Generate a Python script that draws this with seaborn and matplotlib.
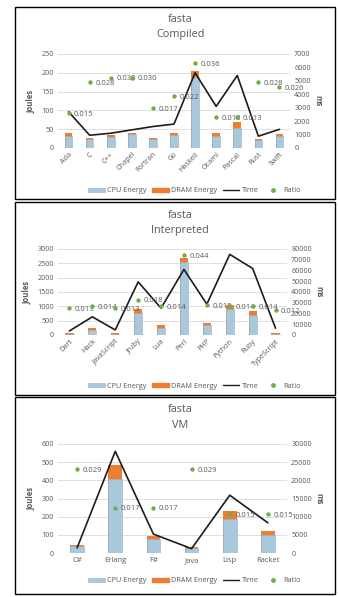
import numpy as np
import pandas as pd
import matplotlib
matplotlib.use("Agg")
import matplotlib.pyplot as plt
from matplotlib.patches import Rectangle, Patch
from matplotlib.lines import Line2D
import seaborn as sns

sns.set_theme(style="white")
plt.rcParams["font.family"] = ["Open Sans", "DejaVu Sans"]

# ---- data -------------------------------------------------------------
compiled_langs = ["Ada", "C", "C++", "Chapel", "Fortran", "Go", "Haskell",
                  "Ocaml", "Pascal", "Rust", "Swift"]
compiled_cpu = [32, 23, 30, 36, 23, 34, 189, 31, 53, 22, 31]
compiled_dram = [8, 3, 4, 3, 4, 5, 15, 9, 15, 3, 6]
compiled_time = [2700, 950, 1100, 1350, 1600, 1780, 5600, 3100, 5400, 880, 1390]
compiled_ratio = [0.015, 0.028, 0.030, 0.030, 0.017, 0.022, 0.036, 0.013,
                  0.013, 0.028, 0.026]

interp_langs = ["Dart", "Hack", "JavaScript", "Jruby", "Lua", "Perl", "PHP",
                "Python", "Ruby", "TypeScript"]
interp_cpu = [40, 180, 40, 760, 260, 2540, 340, 900, 700, 50]
interp_dram = [15, 50, 20, 130, 90, 150, 90, 150, 150, 25]
interp_time = [3800, 16900, 4700, 49400, 25000, 61000, 28700, 75000, 61900, 6300]
interp_ratio = [0.013, 0.014, 0.013, 0.018, 0.014, 0.044, 0.015, 0.014,
                0.014, 0.012]

vm_langs = ["C#", "Erlang", "F#", "Java", "Lisp", "Racket"]
vm_cpu = [37, 408, 77, 28, 188, 98]
vm_dram = [8, 75, 18, 7, 45, 22]
vm_time = [1400, 28000, 5200, 1200, 15900, 8300]
vm_ratio = [0.029, 0.017, 0.017, 0.029, 0.015, 0.015]

# ---- styling ------------------------------------------------------------
CPU_COLOR = "#a9c8dc"
CPU_EDGE = "#8fb4cf"
DRAM_COLOR = "#ed7d31"
TIME_COLOR = "#1c1c1c"
RATIO_COLOR = "#70ad47"
TEXT_COLOR = "#595959"
GRID_COLOR = "#d9d9d9"

W, H = 338, 597
fig = plt.figure(figsize=(W / 100, H / 100), dpi=100)
fig.patch.set_facecolor("white")


def rect(x0, y0, x1, y1):
    return [x0 / W, 1 - y1 / H, (x1 - x0) / W, (y1 - y0) / H]


def panel(box, area, title, langs, cpu, dram, time, ratio,
          jmax, jstep, tmax, tstep, rlim, rotate, title_y, legend_y):
    # panel frame
    bx0, by0, bx1, by1 = box
    fig.patches.append(Rectangle((bx0 / W, 1 - by1 / H), (bx1 - bx0) / W,
                                 (by1 - by0) / H, transform=fig.transFigure,
                                 fill=False, edgecolor="black", linewidth=1.0))
    fig.text(0.5 * (bx0 + bx1) / W + 0.015, 1 - title_y[0] / H, "fasta",
             ha="center", va="center", fontsize=7.8, color=TEXT_COLOR)
    fig.text(0.5 * (bx0 + bx1) / W + 0.015, 1 - title_y[1] / H, title,
             ha="center", va="center", fontsize=7.8, color=TEXT_COLOR)

    df = pd.DataFrame({"lang": langs, "cpu": cpu, "dram": dram,
                       "total": np.array(cpu) + np.array(dram),
                       "time": time, "ratio": ratio,
                       "pos": np.arange(len(langs))})
    n = len(langs)

    ax = fig.add_axes(rect(*area))
    ax.set_axisbelow(True)
    for v in np.arange(0, jmax + 1, jstep):
        ax.axhline(v, color=GRID_COLOR, linewidth=0.6, zorder=0)
    sns.barplot(data=df, x="lang", y="total", color=DRAM_COLOR, width=0.36,
                saturation=1, ax=ax, linewidth=0, zorder=2)
    sns.barplot(data=df, x="lang", y="cpu", color=CPU_COLOR, width=0.36,
                saturation=1, ax=ax, edgecolor=CPU_EDGE, linewidth=0.4,
                zorder=3)
    ax.set_ylim(0, jmax)
    ax.set_xlim(-0.5, n - 0.5)
    ax.set_yticks(np.arange(0, jmax + 1, jstep))
    ax.set_xlabel("")
    ax.set_ylabel("Joules", fontsize=5.5, fontweight="bold", color=TEXT_COLOR,
                  labelpad=4)
    ax.tick_params(axis="y", labelsize=5.2, colors=TEXT_COLOR, length=0, pad=3)
    if rotate:
        ax.set_xticks(range(n))
        ax.set_xticklabels(langs, rotation=45, ha="right",
                           rotation_mode="anchor")
        ax.tick_params(axis="x", labelsize=5.2, colors=TEXT_COLOR, length=0,
                       pad=2)
    else:
        ax.tick_params(axis="x", labelsize=5.5, colors=TEXT_COLOR, length=0,
                       pad=3)
    for s in ax.spines.values():
        s.set_visible(False)
    ax.patch.set_alpha(0)

    # time on secondary axis
    ax2 = ax.twinx()
    sns.lineplot(data=df, x="pos", y="time", color=TIME_COLOR, linewidth=1.2,
                 ax=ax2, zorder=4)
    ax2.set_ylim(0, tmax)
    ax2.set_yticks(np.arange(0, tmax + 1, tstep))
    ax2.set_xlim(-0.5, n - 0.5)
    ax2.set_ylabel("ms", fontsize=5.5, fontweight="bold", color=TEXT_COLOR,
                   rotation=-90, labelpad=8)
    ax2.tick_params(axis="y", labelsize=5.2, colors=TEXT_COLOR, length=0, pad=3)
    for s in ax2.spines.values():
        s.set_visible(False)

    # ratio on a hidden third axis
    ax3 = ax.twinx()
    sns.scatterplot(data=df, x="pos", y="ratio", color=RATIO_COLOR, s=10,
                    linewidth=0, ax=ax3, zorder=5)
    ax3.set_ylim(*rlim)
    ax3.set_xlim(-0.5, n - 0.5)
    ax3.axis("off")
    for xi, r in zip(df["pos"], df["ratio"]):
        ax3.annotate(f"{r:.3f}", (xi, r), xytext=(4, -1),
                     textcoords="offset points", fontsize=5.5,
                     color=TEXT_COLOR, va="center", ha="left")

    handles = [Patch(facecolor=CPU_COLOR, edgecolor=CPU_EDGE, linewidth=0.4),
               Patch(facecolor=DRAM_COLOR, edgecolor=DRAM_COLOR),
               Line2D([], [], color=TIME_COLOR, linewidth=1.0),
               Line2D([], [], color=RATIO_COLOR, marker="o", linestyle="",
                      markersize=2.5)]
    fig.legend(handles, ["CPU Energy", "DRAM Energy", "Time", "Ratio"],
               loc="center", bbox_to_anchor=(0.575, 1 - legend_y / H),
               ncol=4, frameon=False, fontsize=5.2, handlelength=2.3,
               handleheight=0.6, columnspacing=0.8, handletextpad=0.3,
               labelcolor=TEXT_COLOR)


panel((15, 7, 335, 199), (58, 54, 290, 148), "Compiled", compiled_langs,
      compiled_cpu, compiled_dram, compiled_time, compiled_ratio,
      250, 50, 7000, 1000, (0, 0.04), True, (20, 35), 191)

panel((15, 202, 335, 395), (58, 249, 287, 335), "Interpreted", interp_langs,
      interp_cpu, interp_dram, interp_time, interp_ratio,
      3000, 500, 80000, 10000, (-0.0027, 0.0475), True, (216, 231), 386)

panel((15, 397, 335, 594), (58, 444, 287, 553), "VM", vm_langs,
      vm_cpu, vm_dram, vm_time, vm_ratio,
      600, 100, 30000, 5000, (0.0028, 0.0369), False, (410, 426), 581)

fig.savefig("out.png", dpi=100, facecolor="white")
